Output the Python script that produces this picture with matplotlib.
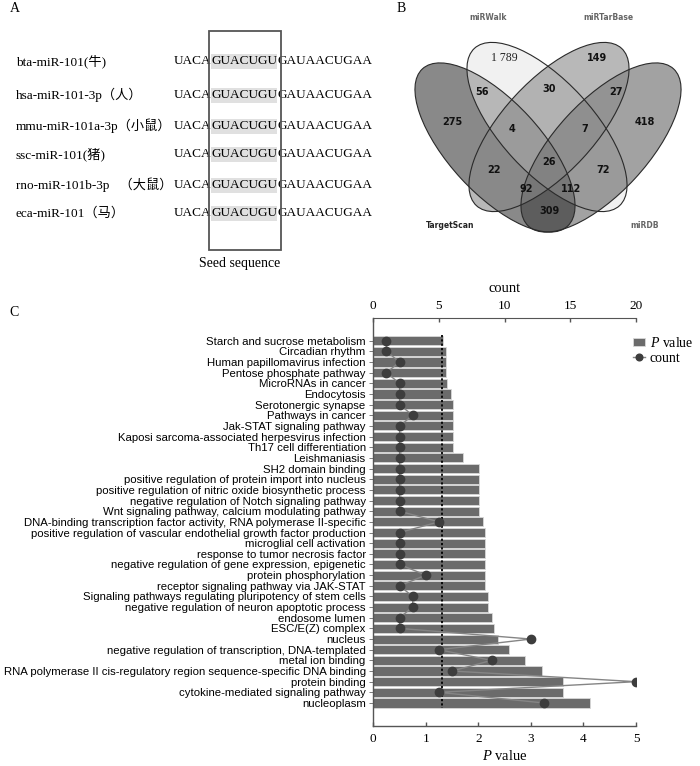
import matplotlib
matplotlib.use("Agg")
import matplotlib.pyplot as plt
from matplotlib.patches import Ellipse, Rectangle

plt.rcParams['mathtext.fontset'] = 'custom'
plt.rcParams['mathtext.it'] = 'Liberation Serif:italic'
plt.rcParams['mathtext.rm'] = 'Liberation Serif'

SERIF = ['Liberation Serif', 'Noto Sans CJK SC']
SANS = ['Liberation Sans', 'DejaVu Sans']

# ── Panel A data ─────────────────────────────────────────────────────────────
species = ['bta-miR-101(牛)', 'hsa-miR-101-3p（人）', 'mmu-miR-101a-3p（小鼠）',
           'ssc-miR-101(猪)', 'rno-miR-101b-3p   （大鼠）', 'eca-miR-101（马）']
sequences = ['UACAGUACUGUGAUAACUGAA'] * 6
seed_start, seed_end = 4, 11

# ── Panel B data ─────────────────────────────────────────────────────────────
venn_sets = ['miRWalk', 'miRTarBase', 'TargetScan', 'miRDB']
region_keys = ['W', 'T', 'WS', 'WT', 'TD', 'S', 'WTS', 'WTD', 'D',
               'WTSD', 'TS', 'WD', 'TSD', 'WSD', 'SD']
region_counts = [1789, 149, 56, 30, 27, 275, 4, 7, 418, 26, 22, 72, 92, 112, 309]

# ── Panel C data ─────────────────────────────────────────────────────────────
terms = ['Starch and sucrose metabolism', 'Circadian rhythm',
         'Human papillomavirus infection', 'Pentose phosphate pathway',
         'MicroRNAs in cancer', 'Endocytosis', 'Serotonergic synapse',
         'Pathways in cancer', 'Jak-STAT signaling pathway',
         'Kaposi sarcoma-associated herpesvirus infection',
         'Th17 cell differentiation', 'Leishmaniasis', 'SH2 domain binding',
         'positive regulation of protein import into nucleus',
         'positive regulation of nitric oxide biosynthetic process',
         'negative regulation of Notch signaling pathway',
         'Wnt signaling pathway, calcium modulating pathway',
         'DNA-binding transcription factor activity, RNA polymerase II-specific',
         'positive regulation of vascular endothelial growth factor production',
         'microglial cell activation', 'response to tumor necrosis factor',
         'negative regulation of gene expression, epigenetic',
         'protein phosphorylation', 'receptor signaling pathway via JAK-STAT',
         'Signaling pathways regulating pluripotency of stem cells',
         'negative regulation of neuron apoptotic process', 'endosome lumen',
         'ESC/E(Z) complex', 'nucleus',
         'negative regulation of transcription, DNA-templated',
         'metal ion binding',
         'RNA polymerase II cis-regulatory region sequence-specific DNA binding',
         'protein binding', 'cytokine-mediated signaling pathway', 'nucleoplasm']
neg_log_p = [1.33, 1.38, 1.38, 1.38, 1.41, 1.48, 1.51, 1.51, 1.51, 1.51, 1.51, 1.70,
             2.02, 2.02, 2.02, 2.02, 2.02, 2.09, 2.12, 2.12, 2.12, 2.12, 2.12, 2.12,
             2.18, 2.18, 2.26, 2.30, 2.37, 2.58, 2.89, 3.22, 3.61, 3.61, 4.12]
gene_count = [1, 1, 2, 1, 2, 2, 2, 3, 2, 2, 2, 2, 2, 2, 2, 2, 2, 5, 2, 2, 2, 2, 4, 2,
              3, 3, 2, 2, 12, 5, 9, 6, 20, 5, 13]
p_threshold = 1.301  # -log10(0.05)

fig = plt.figure(figsize=(7, 7.66), dpi=100)

# pixel-space overlay for panels A, B and the panel letters
ov = fig.add_axes([0, 0, 1, 1])
ov.set_xlim(0, 700)
ov.set_ylim(766, 0)
ov.axis('off')

for lab, (x, y) in zip('ABC', [(10, 8), (397, 8), (9, 313)]):
    ov.text(x, y, lab, family=SERIF, fontsize=10, va='center', ha='left')

row_y = [61, 95, 126, 154, 185, 213]
seed_txts = []
for name, seq, y in zip(species, sequences, row_y):
    ov.text(16, y, name, family=SERIF, fontsize=9.5, va='center', ha='left')
    st = ov.text(211, y, seq[seed_start:seed_end], family=SERIF, fontsize=9.5,
                 va='center', ha='left', zorder=3)
    ov.annotate(seq[:seed_start], xy=(0, 0.5), xycoords=st, ha='right', va='center',
                family=SERIF, fontsize=9.5, zorder=3)
    ov.annotate(seq[seed_end:], xy=(1, 0.5), xycoords=st, ha='left', va='center',
                family=SERIF, fontsize=9.5, zorder=3)
    seed_txts.append(st)

fig.canvas.draw()
inv = ov.transData.inverted()
for st in seed_txts:
    bb = st.get_window_extent()
    (x0, _), (x1, _) = inv.transform([[bb.x0, bb.y0], [bb.x1, bb.y1]])
    yc = st.get_position()[1]
    ov.add_patch(Rectangle((x0, yc - 7.5), x1 - x0, 15, facecolor='#e0e0e0',
                           edgecolor='none', zorder=1))
ov.add_patch(Rectangle((209, 31), 72, 219, fill=False, edgecolor='#555555', lw=1.3, zorder=4))
ov.text(240, 263, 'Seed sequence', family=SERIF, fontsize=10, ha='center', va='center')

# ── Panel B: Venn (pixel coordinates) ────────────────────────────────────────
ell_w, ell_h, ell_ang = 214, 92, 47.3
ellipses = {  # center, angle, face colour, alpha  (draw order S, W, D, T)
    'S': ((495, 147.5), ell_ang, '#151515', 0.50),
    'W': ((547, 127.0), ell_ang, '#e5e5e5', 0.50),
    'D': ((601, 147.5), -ell_ang, '#1e1e1e', 0.41),
    'T': ((549, 127.0), -ell_ang, '#898989', 0.60),
}
for key, (c, ang, col, a) in ellipses.items():
    ov.add_patch(Ellipse(c, ell_w, ell_h, angle=ang, facecolor=col, alpha=a,
                         edgecolor='none'))
for key, (c, ang, col, a) in ellipses.items():
    ov.add_patch(Ellipse(c, ell_w, ell_h, angle=ang, fill=False,
                         edgecolor='#2a2a2a', lw=0.8))

region_xy = [(504, 58), (597, 58), (482, 92), (549, 89), (616, 92), (452, 122),
             (512, 129), (585, 129), (645, 122), (549, 162), (494, 170), (603, 170),
             (526, 189), (571, 189), (549, 211)]
for key, n, (x, y) in zip(region_keys, region_counts, region_xy):
    if n >= 1000:
        ov.text(x, y, f"{n:,}".replace(',', ' '), family=SERIF, fontsize=8.5,
                ha='center', va='center', color='#222222')
    else:
        ov.text(x, y, str(n), family='DejaVu Sans', fontweight='bold', fontsize=7,
                ha='center', va='center', color='#111111')

set_xy = [(488, 18), (608, 18), (450, 226), (645, 226)]
set_col = ['#666666', '#666666', '#222222', '#666666']
for name, (x, y), c in zip(venn_sets, set_xy, set_col):
    ov.text(x, y, name, family='DejaVu Sans', fontweight='bold', fontsize=5.5,
            ha='center', va='center', color=c)

# ── Panel C: enrichment bars + counts ────────────────────────────────────────
ax = fig.add_axes([373.3 / 700, 1 - 726 / 766, (636 - 373.3) / 700, (726 - 317.7) / 766])
ypos = list(range(len(terms)))
ax.barh(ypos, neg_log_p, height=0.85, color='#6b6b6b', edgecolor='#d8d8d8',
        lw=0.6, label='$P$ value', zorder=2)
ax.vlines(p_threshold, -0.5, len(terms) - 0.5, colors='black', linestyles=(0, (1.2, 1.2)),
          lw=1.3, zorder=3)
ax.set_xlim(0, 5)
ax.set_ylim(len(terms) - 1 + 2.16, -2.16)
ax.set_yticks(ypos)
ax.set_yticklabels(terms, family=SANS, fontsize=8.2)
ax.set_xticks(range(6))
ax.set_xticklabels([str(i) for i in range(6)], family=SERIF, fontsize=9.5)
ax.set_xlabel('$P$ value', family=SERIF, fontsize=10.5, labelpad=3)
ax.tick_params(axis='y', direction='out', length=3, width=0.6, color='#666666', pad=2.5)
ax.tick_params(axis='x', direction='in', length=3, width=1, color='#555555', pad=5)
ax.spines['right'].set_visible(False)
ax.spines['top'].set_visible(False)
for s in ('left', 'bottom'):
    ax.spines[s].set_color('#555555')
    ax.spines[s].set_linewidth(1.0)

ax2 = ax.twiny()
ax2.plot(gene_count, ypos, color='#858585', lw=1.0, marker='o', markersize=6,
         markerfacecolor='#3d3d3d', markeredgecolor='#3d3d3d', label='count', zorder=4)
ax2.set_xlim(0, 20)
ax2.set_xticks([0, 5, 10, 15, 20])
ax2.set_xticklabels(['0', '5', '10', '15', '20'], family=SERIF, fontsize=9.5)
ax2.set_xlabel('count', family=SERIF, fontsize=10.5, labelpad=6)
ax2.tick_params(axis='x', direction='in', length=3, width=1, color='#555555', pad=4)
ax2.spines['right'].set_visible(False)
ax2.spines['bottom'].set_visible(False)
ax2.spines['left'].set_visible(False)
ax2.spines['top'].set_color('#555555')

h1, l1 = ax.get_legend_handles_labels()
h2, l2 = ax2.get_legend_handles_labels()
fig.legend(h1 + h2, l1 + l2, loc='upper left', bbox_to_anchor=(626 / 700, 1 - 329 / 766),
           frameon=False, prop={'family': SERIF, 'size': 10}, handlelength=0.9,
           handleheight=0.6, handletextpad=0.3, labelspacing=0.15, borderpad=0,
           markerscale=0.8)

fig.savefig('out.png', dpi=100)
